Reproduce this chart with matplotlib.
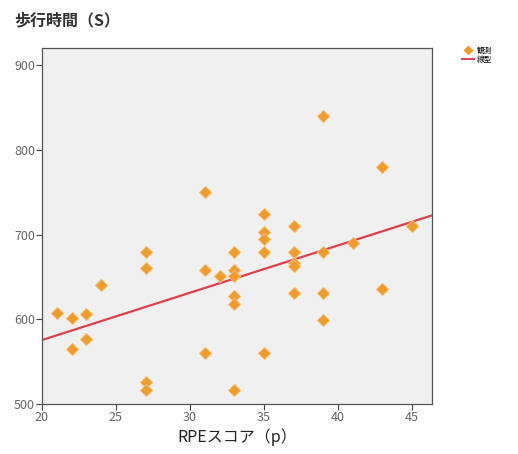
import numpy as np
import matplotlib
matplotlib.use('Agg')
import matplotlib.pyplot as plt
from matplotlib.lines import Line2D

plt.rcParams['font.family'] = ['Noto Sans CJK JP', 'DejaVu Sans']

# RPEスコア と 歩行時間
rpe = [21, 22, 22, 23, 23, 24,
       27, 27, 27, 27,
       31, 31, 31, 32,
       33, 33, 33, 33, 33, 33,
       35, 35, 35, 35, 35,
       37, 37, 37, 37, 37,
       39, 39, 39, 39,
       41, 43, 43, 45]
walk_time = [607, 602, 565, 606, 577, 640,
             679, 660, 526, 517,
             750, 658, 560, 651,
             680, 658, 651, 627, 618, 517,
             724, 703, 695, 680, 560,
             710, 680, 667, 663, 631,
             840, 680, 631, 599,
             690, 780, 636, 710]

x_ticks = [20, 25, 30, 35, 40, 45]
y_ticks = [500, 600, 700, 800, 900]

marker_color = '#F09C2C'
line_color = '#E0404C'

fig = plt.figure(figsize=(5.18, 4.54), dpi=100)
ax = fig.add_axes([0.081, 0.110, 0.753, 0.784])
ax.set_facecolor('#F0F0F0')

ax.scatter(rpe, walk_time, marker='D', s=40, color=marker_color,
           edgecolors='#F6C478', linewidths=0.6, zorder=3)

xmin, xmax = 20, 46.35
slope, icpt = np.polyfit(rpe, walk_time, 1)
xs = np.array([xmin, xmax])
ax.plot(xs, slope * xs + icpt, color=line_color, linewidth=1.6, zorder=2)

ax.set_xlim(xmin, xmax)
ax.set_ylim(500, 920)
ax.set_xticks(x_ticks)
ax.set_yticks(y_ticks)
ax.tick_params(direction='out', length=4, width=0.8, colors='#444444',
               labelcolor='#666666', labelsize=9, pad=1)
for sp in ax.spines.values():
    sp.set_color('#555555')
    sp.set_linewidth(0.9)

fig.text(0.027, 0.955, '歩行時間（S）', fontsize=11.5, fontweight='bold',
         color='#333333', ha='left', va='center')
ax.set_xlabel('RPEスコア（p）', fontsize=11.5, color='#222222', labelpad=3)

handles = [Line2D([], [], marker='D', linestyle='none', markersize=4,
                  color=marker_color),
           Line2D([], [], color=line_color, linewidth=1.4)]
fig.legend(handles, ['観測', '線型'], loc='upper left',
           bbox_to_anchor=(0.885, 0.905), frameon=False, fontsize=5.5,
           handlelength=1.6, handletextpad=0.3, labelspacing=0.1,
           borderpad=0)

fig.savefig('out.png', dpi=100)
